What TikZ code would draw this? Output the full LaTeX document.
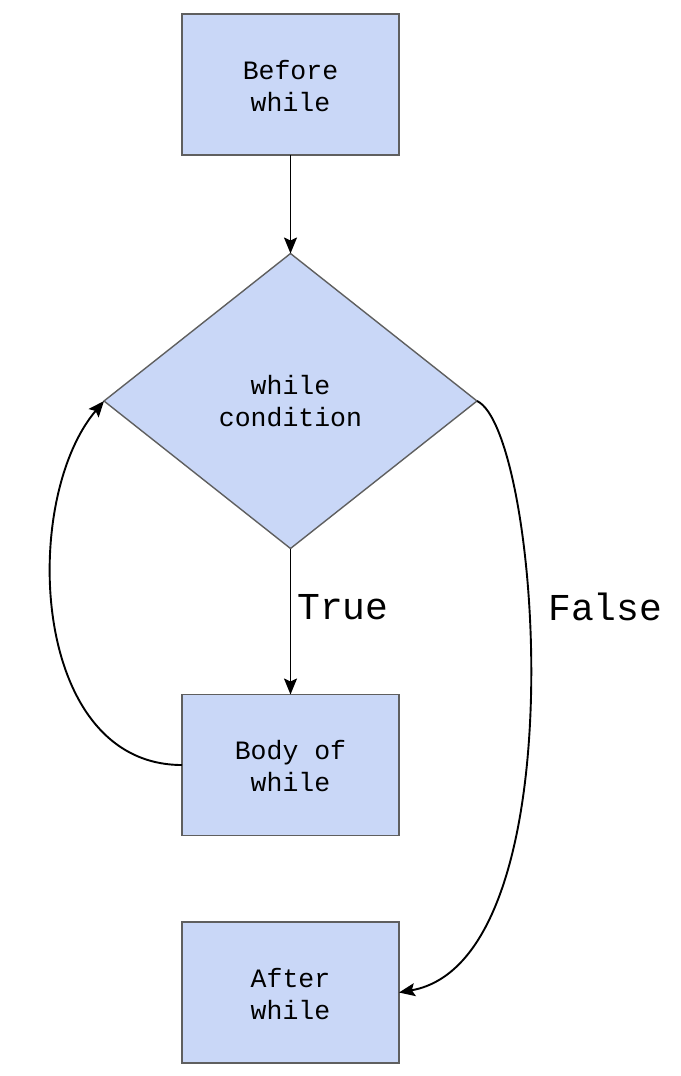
\documentclass[tikz,border=0pt]{standalone}
\usepackage{fontspec}
\setmonofont{Liberation Mono}
\usetikzlibrary{shapes.geometric,arrows.meta}
\definecolor{boxfill}{HTML}{C9D7F7}
\definecolor{boxline}{HTML}{5F5F5F}
\newcommand{\lowertext}[2]{\raisebox{-#1}[\height][\depth]{\parbox{200pt}{\centering #2}}}
\tikzset{
  stepbox/.style={draw=boxline, fill=boxfill, line width=1.4pt, rectangle,
    minimum width=217pt, minimum height=141pt, inner sep=0pt, outer sep=0pt,
    align=center, font=\fontsize{26.5}{32}\selectfont\ttfamily},
  decision/.style={draw=boxline, fill=boxfill, line width=1.4pt, diamond,
    minimum width=373pt, minimum height=295pt, inner sep=0pt, outer sep=0pt,
    align=center, font=\fontsize{26.5}{32}\selectfont\ttfamily},
  flow/.style={draw=black, line width=1.9pt, -{Stealth[length=16pt,width=13pt,inset=3pt]}},
  lbl/.style={anchor=west, inner sep=0pt, font=\fontsize{38}{44}\selectfont\ttfamily}
}
\begin{document}
\begin{tikzpicture}[x=1pt,y=-1pt]
\useasboundingbox (0,0) rectangle (680,1076);
\node[stepbox] (before) at (290.5,84.5) {\lowertext{2pt}{Before\\while}};
\node[decision] (cond) at (290.5,401) {while\\condition};
\node[stepbox] (body) at (290.5,765) {\lowertext{1pt}{Body of\\while}};
\node[stepbox] (after) at (290.5,992.5) {\lowertext{2pt}{After\\while}};
\draw[flow] (before.south) -- (cond.north);
\draw[flow] (cond.south) -- (body.north);
\node[lbl] (truelbl) at (297,607) {True};
\draw[flow] (body.west) .. controls +(-152,0) and +(-84,99) .. (cond.west);
\draw[flow] (cond.east) .. controls +(63,29) and +(181,-32) .. (after.east);
\node[lbl] (falselbl) at (548,607) {False};
\end{tikzpicture}
\end{document}
